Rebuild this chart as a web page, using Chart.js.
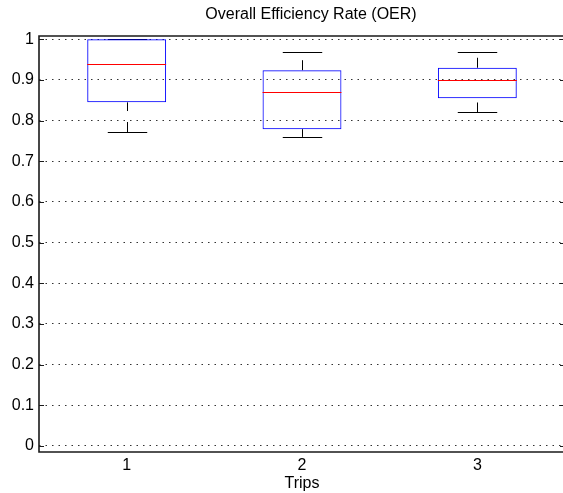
<!DOCTYPE html>
<html>
<head>
<meta charset="utf-8">
<script src="https://cdn.jsdelivr.net/npm/chart.js@4/dist/chart.umd.min.js"></script>
<style>
  html, body { margin: 0; padding: 0; background: #fff; overflow: hidden; }
  #wrap { width: 565px; height: 493px; }
</style>
</head>
<body>
<div id="wrap"><canvas id="c" width="565" height="493"></canvas></div>
<script>
// Box plot of the Overall Efficiency Rate per trip
const trips = ['1', '2', '3'];
const lowerWhisker = [0.772, 0.760, 0.820];
const q1 = [0.845, 0.779, 0.855];
const median = [0.939, 0.870, 0.899];
const q3 = [1.000, 0.924, 0.930];
const upperWhisker = [1.000, 0.968, 0.968];
const yTicks = [0, 0.1, 0.2, 0.3, 0.4, 0.5, 0.6, 0.7, 0.8, 0.9, 1];
const chartTitle = 'Overall Efficiency Rate (OER)';
const xTitle = 'Trips';

const FONT = 'Liberation Sans, Arial, Helvetica, sans-serif';

// whiskers, caps, medians, axis frame, inward tick marks and the title
const boxplotParts = {
  id: 'boxplotParts',
  beforeDatasetsDraw(chart) {
    const ctx = chart.ctx;
    const y = chart.scales.y;
    const bars = chart.getDatasetMeta(0).data;
    ctx.save();
    for (let i = 0; i < trips.length; i++) {
      const cx = Math.round(bars[i].x) + 0.5;
      const half = bars[i].width / 2;
      const capHalf = half / 2;
      ctx.strokeStyle = '#000';
      ctx.lineWidth = 1;
      // dashed whiskers, drawn from the lower value upward
      ctx.setLineDash([10, 11]);
      [[lowerWhisker[i], q1[i]], [q3[i], upperWhisker[i]]].forEach(([a, b]) => {
        if (b <= a) return;
        ctx.beginPath();
        ctx.moveTo(cx, y.getPixelForValue(a));
        ctx.lineTo(cx, y.getPixelForValue(b));
        ctx.stroke();
      });
      ctx.setLineDash([]);
      // caps
      [lowerWhisker[i], upperWhisker[i]].forEach(v => {
        const py = Math.round(y.getPixelForValue(v)) + 0.5;
        ctx.beginPath();
        ctx.moveTo(cx - capHalf, py);
        ctx.lineTo(cx + capHalf, py);
        ctx.stroke();
      });
    }
    ctx.restore();
  },
  afterDatasetsDraw(chart) {
    const ctx = chart.ctx;
    const y = chart.scales.y;
    const bars = chart.getDatasetMeta(0).data;
    const area = chart.chartArea;
    ctx.save();
    // medians
    ctx.strokeStyle = '#ff0000';
    ctx.lineWidth = 1;
    for (let i = 0; i < trips.length; i++) {
      const half = bars[i].width / 2;
      const py = Math.round(y.getPixelForValue(median[i])) + 0.5;
      ctx.beginPath();
      ctx.moveTo(bars[i].x - half, py);
      ctx.lineTo(bars[i].x + half, py);
      ctx.stroke();
    }
    // axes frame
    ctx.strokeStyle = '#1a1a1a';
    ctx.lineWidth = 1.6;
    ctx.beginPath();
    ctx.moveTo(area.left, area.top);
    ctx.lineTo(area.right, area.top);
    ctx.lineTo(area.right, area.bottom);
    ctx.lineTo(area.left, area.bottom);
    ctx.closePath();
    ctx.stroke();
    // inward tick marks on both vertical sides
    ctx.lineWidth = 1;
    yTicks.forEach(v => {
      const py = Math.round(y.getPixelForValue(v)) + 0.5;
      ctx.beginPath();
      ctx.moveTo(area.left, py);
      ctx.lineTo(area.left + 5, py);
      ctx.moveTo(area.right - 5, py);
      ctx.lineTo(area.right, py);
      ctx.stroke();
    });
    // title above the axes
    ctx.fillStyle = '#000';
    ctx.font = '16px ' + FONT;
    ctx.textAlign = 'center';
    ctx.textBaseline = 'middle';
    ctx.fillText(chartTitle, 311, 15);
    ctx.restore();
  }
};

new Chart(document.getElementById('c'), {
  type: 'bar',
  data: {
    labels: trips,
    datasets: [{
      data: q1.map((v, i) => [v, q3[i]]),
      backgroundColor: 'rgba(0,0,0,0)',
      borderColor: '#0000ff',
      borderWidth: 1,
      borderSkipped: false,
      barPercentage: 0.45,
      categoryPercentage: 1
    }]
  },
  options: {
    responsive: false,
    animation: false,
    layout: { padding: { left: 0, right: 0, top: 36, bottom: 0 } },
    plugins: {
      legend: { display: false },
      tooltip: { enabled: false },
      title: { display: false }
    },
    scales: {
      x: {
        type: 'category',
        offset: true,
        grid: { display: false, drawTicks: false },
        border: { display: false },
        ticks: { color: '#000', font: { family: FONT, size: 16 }, padding: 4, maxRotation: 0 },
        title: {
          display: true,
          text: xTitle,
          color: '#000',
          font: { family: FONT, size: 16 },
          padding: { top: 0, bottom: 0 }
        },
        afterFit(scale) { scale.height = 41; }
      },
      y: {
        min: -0.0148,
        max: 1.0081,
        grid: { color: '#333', lineWidth: 1, drawTicks: false },
        border: { display: false, dash: [1.5, 5] },
        ticks: {
          color: '#000',
          font: { family: FONT, size: 16 },
          padding: 5,
          includeBounds: false,
          callback: v => String(Number(v.toFixed(1)))
        },
        afterBuildTicks(scale) { scale.ticks = yTicks.map(v => ({ value: v })); },
        afterFit(scale) { scale.width = 39; }
      }
    }
  },
  plugins: [boxplotParts]
});
</script>
</body>
</html>
